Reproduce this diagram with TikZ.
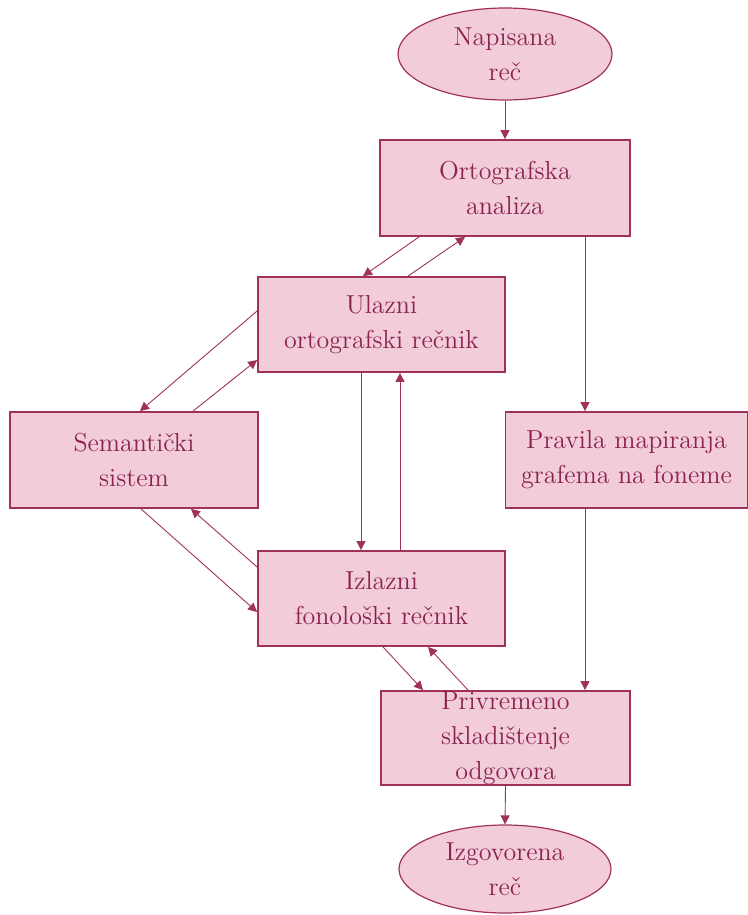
\documentclass[tikz,border=0pt]{standalone}
\usetikzlibrary{arrows.meta,shapes.geometric}
\definecolor{boxfill}{HTML}{F2CCD8}
\definecolor{boxline}{HTML}{A0325A}
\definecolor{boxtext}{HTML}{8A2250}
\begin{document}
\begin{tikzpicture}[x=0.5pt,y=-0.5pt,
  every node/.style={text=boxtext,font=\fontsize{13}{17.5}\selectfont,align=center,inner sep=0pt},
  stagebox/.style={rectangle,draw=boxline,fill=boxfill,line width=0.9pt},
  endpoint/.style={ellipse,draw=boxline,fill=boxfill,line width=0.6pt},
  link/.style={draw=boxline,line width=0.45pt,-{Triangle[length=4.5pt,width=4.5pt]}}]
\useasboundingbox (0,0) rectangle (748,915);
% stages
\node[endpoint,minimum width=107pt,minimum height=46pt] (top) at (505,54) {Napisana\\reč};
\node[stagebox,minimum width=125pt,minimum height=48pt] (ortho) at (505,188) {Ortografska\\analiza};
\node[stagebox,minimum width=123.5pt,minimum height=47.5pt] (ulazni) at (381.5,324.5) {Ulazni\\ortografski rečnik};
\node[stagebox,minimum width=124pt,minimum height=48pt] (sem) at (134,460) {Semantički\\sistem};
\node[stagebox,minimum width=121pt,minimum height=48pt] (pravila) at (626.5,460) {Pravila mapiranja\\grafema na foneme};
\node[stagebox,minimum width=123.5pt,minimum height=47.5pt] (izlazni) at (381.5,598.5) {Izlazni\\fonološki rečnik};
\node[stagebox,minimum width=124.5pt,minimum height=47pt] (priv) at (505.5,738) {Privremeno\\skladištenje\\odgovora};
\node[endpoint,minimum width=106pt,minimum height=44pt] (bot) at (505,869) {Izgovorena\\reč};
\coordinate (rail) at (585,0);
% connections
\draw[link] (top.south) -- (ortho.north);
\draw[link] ([xshift=-43pt]ortho.south) -- ([xshift=-9.25pt]ulazni.north);
\draw[link] ([xshift=13.25pt]ulazni.north) -- ([xshift=-20pt]ortho.south);
\draw[link] (ortho.south -| rail) -- (pravila.north -| rail);
\draw[link] ([yshift=6.75pt]ulazni.west) -- ([xshift=3pt]sem.north);
\draw[link] ([xshift=29.5pt]sem.north) -- ([yshift=-17.75pt]ulazni.west);
\draw[link] ([xshift=-10.25pt]ulazni.south) -- ([xshift=-10.25pt]izlazni.north);
\draw[link] ([xshift=9.25pt]izlazni.north) -- ([xshift=9.25pt]ulazni.south);
\draw[link] ([xshift=3.5pt]sem.south) -- ([yshift=-6.75pt]izlazni.west);
\draw[link] ([yshift=15.75pt]izlazni.west) -- ([xshift=28.5pt]sem.south);
\draw[link] (pravila.south -| rail) -- (priv.north -| rail);
\draw[link] ([xshift=0.75pt]izlazni.south) -- ([xshift=-41.25pt]priv.north);
\draw[link] ([xshift=-18.75pt]priv.north) -- ([xshift=23.25pt]izlazni.south);
\draw[link] (priv.south) -- (bot.north);
\end{tikzpicture}
\end{document}
